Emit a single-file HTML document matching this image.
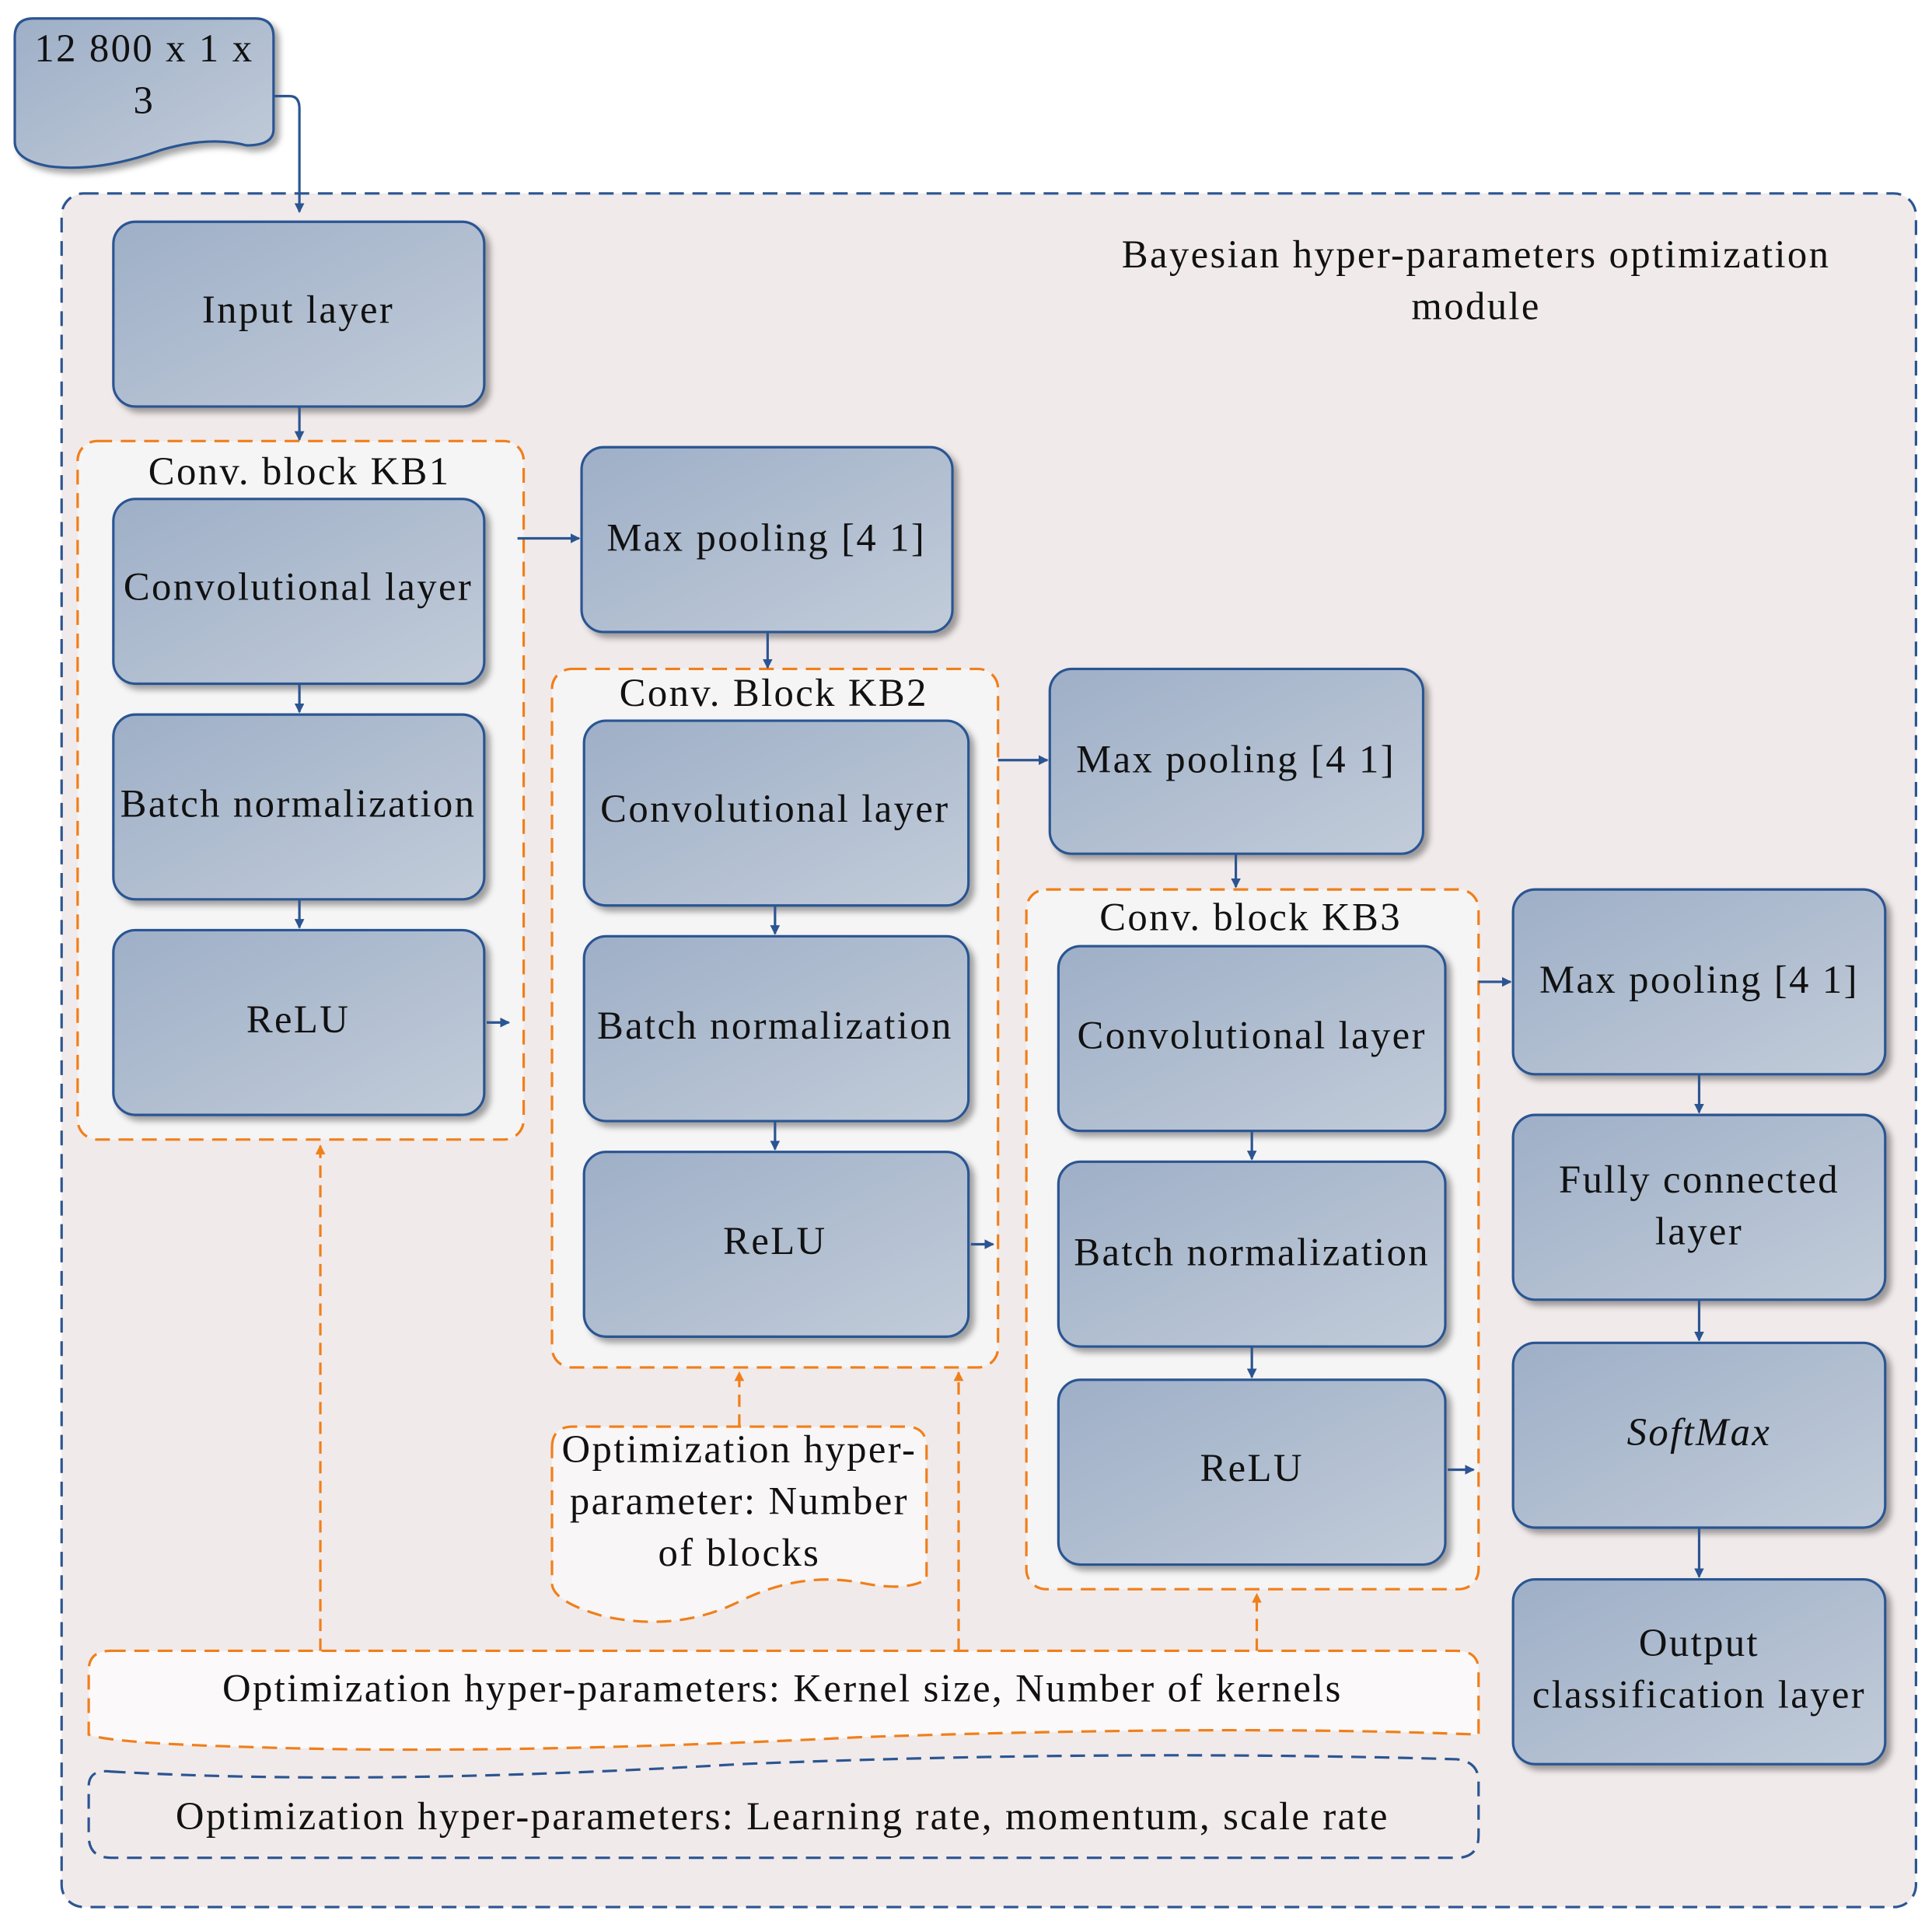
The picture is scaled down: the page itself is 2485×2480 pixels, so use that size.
<!DOCTYPE html>
<html><head><meta charset="utf-8"><style>
html,body{margin:0;padding:0;background:#fff;}
svg{display:block;}
text{font-family:"Liberation Serif",serif;fill:#111;letter-spacing:1.5px;}
</style></head><body>
<svg width="2485" height="2480" viewBox="0 0 1568 1565" preserveAspectRatio="none" xmlns="http://www.w3.org/2000/svg">
<defs>
<linearGradient id="g" x1="0" y1="0" x2="1" y2="1">
<stop offset="0" stop-color="#9eafc7"/><stop offset="1" stop-color="#c2ccd9"/>
</linearGradient>
<filter id="sh" x="-10%" y="-10%" width="130%" height="130%">
<feDropShadow dx="4" dy="4" stdDeviation="2.5" flood-color="#000" flood-opacity="0.35"/>
</filter>
<marker id="ab" markerWidth="8" markerHeight="8" refX="7" refY="4" orient="auto" markerUnits="userSpaceOnUse">
<path d="M0,0 L8,4 L0,8 z" fill="#2b5592"/></marker>
<marker id="ao" markerWidth="8" markerHeight="8" refX="7" refY="4" orient="auto" markerUnits="userSpaceOnUse">
<path d="M0,0 L8,4 L0,8 z" fill="#f07f1a"/></marker>
</defs>

<rect x="50" y="157" width="1505" height="1391" rx="18" fill="#f1eaea" stroke="#2b5592" stroke-width="2" stroke-dasharray="12,7"/>
<text x="1198" y="217" font-size="32" text-anchor="middle">Bayesian hyper-parameters optimization</text>
<text x="1198" y="259" font-size="32" text-anchor="middle">module</text>

<path d="M12,30 Q12,15 27,15 L207,15 Q222,15 222,30 L222,105 Q222,118 200,118 Q170,110 130,122 Q80,140 40,135 Q12,130 12,115 Z" fill="url(#g)" stroke="#2b5592" stroke-width="2" filter="url(#sh)"/>
<text x="117" y="50" font-size="32" text-anchor="middle">12 800 x 1 x</text>
<text x="117" y="92" font-size="32" text-anchor="middle">3</text>
<path d="M222,78 L235,78 Q243,78 243,88 L243,172" fill="none" stroke="#2b5592" stroke-width="2" marker-end="url(#ab)"/>

<rect x="63" y="358" width="362" height="567" rx="16" fill="#f6f5f5" stroke="#f07f1a" stroke-width="2" stroke-dasharray="12,7"/>
<text x="243" y="393" font-size="32" text-anchor="middle">Conv. block KB1</text>
<rect x="448" y="543" width="362" height="567" rx="16" fill="#f6f5f5" stroke="#f07f1a" stroke-width="2" stroke-dasharray="12,7"/>
<text x="628" y="573" font-size="32" text-anchor="middle">Conv. Block KB2</text>
<rect x="833" y="722" width="367" height="568" rx="16" fill="#f6f5f5" stroke="#f07f1a" stroke-width="2" stroke-dasharray="12,7"/>
<text x="1015" y="755" font-size="32" text-anchor="middle">Conv. block KB3</text>

<g fill="url(#g)" stroke="#2b5592" stroke-width="2" filter="url(#sh)">
<rect x="92" y="180" width="301" height="150" rx="18"/>
<rect x="92" y="405" width="301" height="150" rx="18"/>
<rect x="92" y="580" width="301" height="150" rx="18"/>
<rect x="92" y="755" width="301" height="150" rx="18"/>
<rect x="472" y="363" width="301" height="150" rx="18"/>
<rect x="474" y="585" width="312" height="150" rx="18"/>
<rect x="474" y="760" width="312" height="150" rx="18"/>
<rect x="474" y="935" width="312" height="150" rx="18"/>
<rect x="852" y="543" width="303" height="150" rx="18"/>
<rect x="859" y="768" width="314" height="150" rx="18"/>
<rect x="859" y="943" width="314" height="150" rx="18"/>
<rect x="859" y="1120" width="314" height="150" rx="18"/>
<rect x="1228" y="722" width="302" height="150" rx="18"/>
<rect x="1228" y="905" width="302" height="150" rx="18"/>
<rect x="1228" y="1090" width="302" height="150" rx="18"/>
<rect x="1228" y="1282" width="302" height="150" rx="18"/>
</g>

<g font-size="32" text-anchor="middle">
<text x="242" y="262">Input layer</text>
<text x="242" y="487">Convolutional layer</text>
<text x="242" y="663">Batch normalization</text>
<text x="242" y="838">ReLU</text>
<text x="622" y="447">Max pooling [4 1]</text>
<text x="629" y="667">Convolutional layer</text>
<text x="629" y="843">Batch normalization</text>
<text x="629" y="1018">ReLU</text>
<text x="1003" y="627">Max pooling [4 1]</text>
<text x="1016" y="851">Convolutional layer</text>
<text x="1016" y="1027">Batch normalization</text>
<text x="1016" y="1202">ReLU</text>
<text x="1379" y="806">Max pooling [4 1]</text>
<text x="1379" y="968">Fully connected</text>
<text x="1379" y="1010">layer</text>
<text x="1379" y="1173" font-style="italic">SoftMax</text>
<text x="1379" y="1344">Output</text>
<text x="1379" y="1386">classification layer</text>
</g>

<g stroke="#2b5592" stroke-width="2" fill="none" marker-end="url(#ab)">
<line x1="243" y1="330" x2="243" y2="357"/>
<line x1="243" y1="555" x2="243" y2="578"/>
<line x1="243" y1="730" x2="243" y2="753"/>
<line x1="420" y1="437" x2="470" y2="437"/>
<line x1="395" y1="830" x2="413" y2="830"/>
<line x1="623" y1="513" x2="623" y2="542"/>
<line x1="629" y1="735" x2="629" y2="758"/>
<line x1="629" y1="910" x2="629" y2="933"/>
<line x1="788" y1="1010" x2="806" y2="1010"/>
<line x1="810" y1="617" x2="850" y2="617"/>
<line x1="1003" y1="693" x2="1003" y2="720"/>
<line x1="1016" y1="918" x2="1016" y2="941"/>
<line x1="1016" y1="1093" x2="1016" y2="1118"/>
<line x1="1175" y1="1193" x2="1196" y2="1193"/>
<line x1="1200" y1="797" x2="1226" y2="797"/>
<line x1="1379" y1="872" x2="1379" y2="903"/>
<line x1="1379" y1="1055" x2="1379" y2="1088"/>
<line x1="1379" y1="1240" x2="1379" y2="1280"/>
</g>

<path d="M448,1175 Q448,1158 465,1158 L735,1158 Q752,1158 752,1175 L752,1282 Q735,1292 700,1285 Q650,1275 600,1300 Q550,1325 490,1312 Q448,1300 448,1285 Z" fill="#f8f6f6" stroke="#f07f1a" stroke-width="2" stroke-dasharray="12,7"/>
<text x="600" y="1187" font-size="32" text-anchor="middle">Optimization hyper-</text>
<text x="600" y="1229" font-size="32" text-anchor="middle">parameter: Number</text>
<text x="600" y="1271" font-size="32" text-anchor="middle">of blocks</text>

<path d="M90,1340 L1182,1340 Q1200,1340 1200,1356 L1200,1408 Q1000,1400 700,1410 Q400,1425 200,1418 Q90,1415 72,1408 L72,1356 Q72,1340 90,1340 Z" fill="#fbf9f9" stroke="#f07f1a" stroke-width="2" stroke-dasharray="12,7"/>
<text x="635" y="1381" font-size="32" text-anchor="middle">Optimization hyper-parameters: Kernel size, Number of kernels</text>

<path d="M90,1438 Q300,1450 600,1432 Q900,1420 1182,1428 Q1200,1430 1200,1446 L1200,1490 Q1200,1508 1182,1508 L90,1508 Q72,1508 72,1490 L72,1450 Q72,1436 90,1438 Z" fill="#f1eaea" stroke="#2b5592" stroke-width="2" stroke-dasharray="12,7"/>
<text x="635" y="1485" font-size="32" text-anchor="middle">Optimization hyper-parameters: Learning rate, momentum, scale rate</text>

<g stroke="#f07f1a" stroke-width="2" fill="none" stroke-dasharray="10,6" marker-end="url(#ao)">
<line x1="260" y1="1340" x2="260" y2="930"/>
<line x1="600" y1="1158" x2="600" y2="1114"/>
<line x1="778" y1="1340" x2="778" y2="1114"/>
<line x1="1020" y1="1340" x2="1020" y2="1294"/>
</g>
</svg>
</body></html>
